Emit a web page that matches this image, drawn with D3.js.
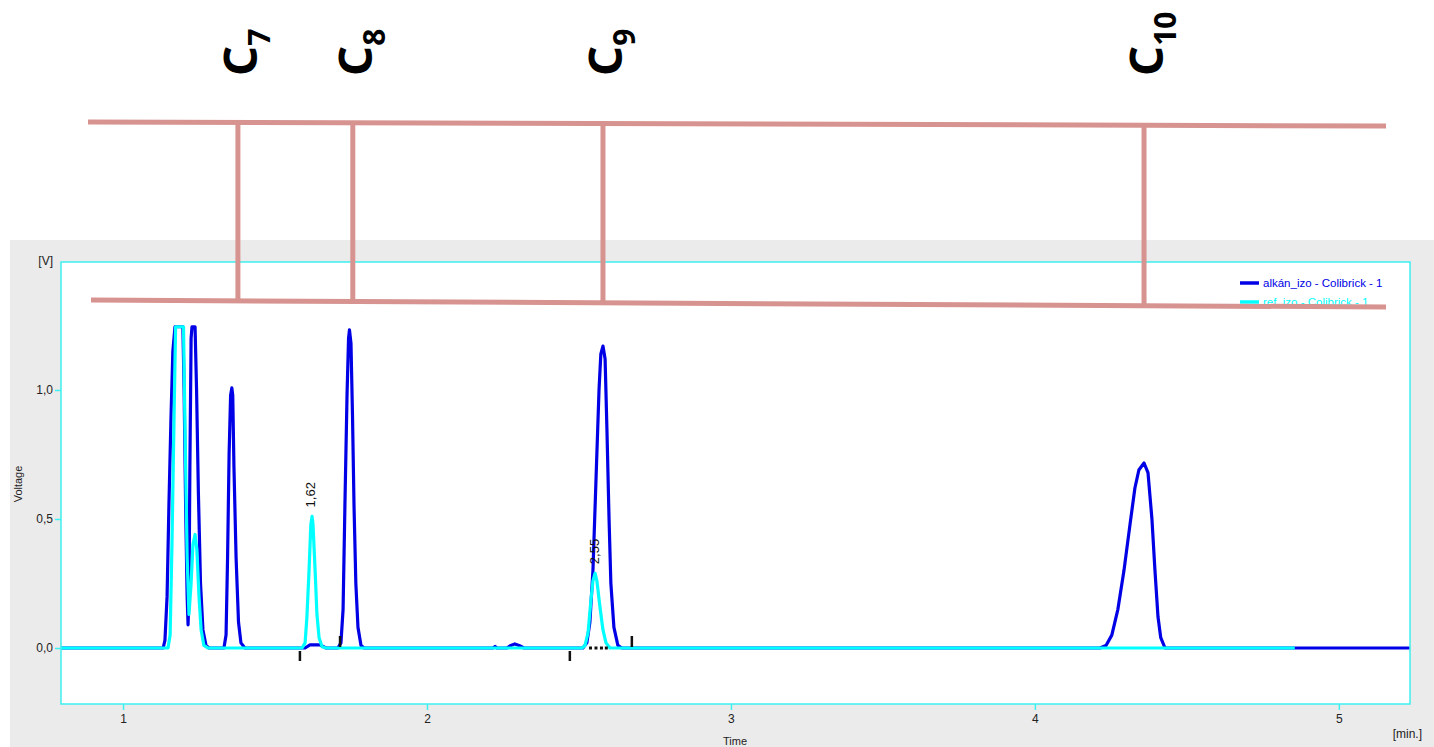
<!DOCTYPE html>
<html>
<head>
<meta charset="utf-8">
<script src="https://cdn.jsdelivr.net/npm/d3@7/dist/d3.min.js"></script>
<style>
  html, body { margin: 0; padding: 0; background: #ffffff; }
  svg { display: block; }
</style>
</head>
<body>
<script>
// ---------------- DATA ----------------
// Series 1: alkán_izo - Colibrick - 1 (blue)
const alkanTimes = [0.796, 1.132, 1.138, 1.145, 1.151, 1.158, 1.164, 1.171, 1.197, 1.201, 1.206, 1.211, 1.214, 1.217, 1.220, 1.224, 1.227, 1.237, 1.242, 1.248, 1.255, 1.263, 1.273, 1.283,
  1.332, 1.339, 1.344, 1.349, 1.354, 1.358, 1.361, 1.365, 1.372, 1.380, 1.388, 1.401,
  1.599, 1.615, 1.648, 1.668,
  1.707, 1.717, 1.724, 1.730, 1.737, 1.742, 1.745, 1.750, 1.755, 1.760, 1.766, 1.773, 1.783, 1.793,
  2.217, 2.224, 2.230, 2.263, 2.276, 2.289, 2.303, 2.319,
  2.513, 2.526, 2.536, 2.546, 2.556, 2.566, 2.572, 2.579, 2.586, 2.592, 2.599, 2.605, 2.615, 2.628, 2.641,
  4.214, 4.234, 4.253, 4.273, 4.293, 4.313, 4.329, 4.342, 4.359, 4.372, 4.385, 4.395, 4.405, 4.414, 4.428, 5.234];
const alkanVolts = [0, 0, 0.03, 0.2, 0.55, 0.9, 1.15, 1.245, 1.245, 1.0, 0.55, 0.2, 0.09, 0.2, 0.7, 1.2, 1.245, 1.245, 1.0, 0.6, 0.25, 0.07, 0.01, 0,
  0, 0.05, 0.35, 0.75, 0.98, 1.008, 0.98, 0.7, 0.35, 0.1, 0.02, 0,
  0, 0.012, 0.012, 0,
  0, 0.02, 0.15, 0.55, 0.98, 1.2, 1.233, 1.18, 0.9, 0.55, 0.25, 0.08, 0.01, 0,
  0, 0.006, 0, 0, 0.01, 0.016, 0.01, 0,
  0, 0.02, 0.1, 0.3, 0.65, 1.0, 1.14, 1.17, 1.12, 0.85, 0.5, 0.25, 0.08, 0.01, 0,
  0, 0.01, 0.05, 0.15, 0.3, 0.48, 0.62, 0.69, 0.717, 0.68, 0.5, 0.3, 0.12, 0.04, 0, 0];

// Series 2: ref_izo - Colibrick - 1 (cyan)
const refTimes = [0.796, 1.148, 1.155, 1.161, 1.168, 1.173, 1.199, 1.204, 1.211, 1.217, 1.224, 1.230, 1.237, 1.243, 1.250, 1.257, 1.266, 1.280,
  1.589, 1.599, 1.605, 1.612, 1.618, 1.622, 1.625, 1.632, 1.638, 1.645, 1.655, 1.668,
  2.510, 2.520, 2.530, 2.539, 2.546, 2.553, 2.559, 2.569, 2.579, 2.589, 2.602, 4.855];
const refVolts = [0, 0, 0.05, 0.4, 0.9, 1.245, 1.245, 0.85, 0.35, 0.13, 0.25, 0.4, 0.44, 0.38, 0.2, 0.07, 0.01, 0,
  0, 0.02, 0.12, 0.3, 0.48, 0.51, 0.48, 0.3, 0.13, 0.04, 0.005, 0,
  0, 0.01, 0.06, 0.18, 0.26, 0.29, 0.26, 0.16, 0.07, 0.02, 0, 0];

const seriesNames = ["alkán_izo - Colibrick - 1", "ref_izo - Colibrick - 1"];

// Peak labels (reference series)
const peakLabels = ["1,62", "2,55"];
const peakTimes = [1.62, 2.553];
const peakVolts = [0.51, 0.29];

// Integration markers
const markerTimes = [1.582, 1.714, 2.470, 2.674];
const markerSide = [-1, 1, -1, 1];   // -1 below baseline, 1 above
const dotTimes = [2.538, 2.556, 2.574, 2.590];

// Axis ticks
const xTicks = [1, 2, 3, 4, 5];
const yTicks = [0, 0.5, 1.0];
const yTickLabels = ["0,0", "0,5", "1,0"];

// Annotation (carbon numbers)
const carbonNums = ["7", "8", "9", "10"];
const carbonTimes = [1.378, 1.756, 2.579, 4.359];

// ---------------- LAYOUT ----------------
const W = 1434, H = 747;
const plot = { left: 61, top: 262, right: 1410, bottom: 704 };
const BLUE = "#0000e6", CYAN = "#00ffff", PINK = "#d6938f", AXIS = "#3ff0f0";

const svg = d3.select("body").append("svg").attr("width", W).attr("height", H);

// gray panel
svg.append("rect").attr("x", 10).attr("y", 240).attr("width", W - 10).attr("height", H - 240).attr("fill", "#ebebeb");
svg.append("rect").attr("x", plot.left).attr("y", plot.top)
  .attr("width", plot.right - plot.left).attr("height", plot.bottom - plot.top).attr("fill", "#ffffff");

const x = d3.scaleLinear().domain([0.796, 5.234]).range([plot.left, plot.right]);
const y = d3.scaleLinear().domain([-0.217, 1.496]).range([plot.bottom, plot.top]);

const font = "'Liberation Sans', Arial, sans-serif";

// axes
const xAxis = svg.append("g").attr("transform", `translate(0,${plot.bottom})`)
  .call(d3.axisBottom(x).tickValues(xTicks).tickFormat(d3.format("d")).tickSize(6).tickPadding(4));
const yAxis = svg.append("g").attr("transform", `translate(${plot.left},0)`)
  .call(d3.axisLeft(y).tickValues(yTicks).tickFormat((d, i) => yTickLabels[i]).tickSize(6).tickPadding(2));
[xAxis, yAxis].forEach(g => {
  g.select(".domain").remove();
  g.selectAll(".tick line").attr("stroke", AXIS).attr("stroke-width", 1.5);
  g.selectAll(".tick text").attr("fill", "#222").style("font-family", font).style("font-size", "12px");
});

// series lines
const line = d3.line().x(d => x(d[0])).y(d => y(d[1]));
const alkan = alkanTimes.map((t, i) => [t, alkanVolts[i]]);
const ref = refTimes.map((t, i) => [t, refVolts[i]]);

svg.append("clipPath").attr("id", "clip").append("rect")
  .attr("x", plot.left).attr("y", plot.top).attr("width", plot.right - plot.left).attr("height", plot.bottom - plot.top);

const gPlot = svg.append("g").attr("clip-path", "url(#clip)");

gPlot.append("path").datum(alkan).attr("d", line).attr("fill", "none")
  .attr("stroke", BLUE).attr("stroke-width", 3.2).attr("stroke-linejoin", "round");
gPlot.append("path").datum(ref).attr("d", line).attr("fill", "none")
  .attr("stroke", CYAN).attr("stroke-width", 3.2).attr("stroke-linejoin", "round");

// markers (on top)
gPlot.selectAll(".mk").data(markerTimes).enter().append("line")
  .attr("x1", d => x(d)).attr("x2", d => x(d))
  .attr("y1", (d, i) => y(0) + (markerSide[i] < 0 ? 3 : -1))
  .attr("y2", (d, i) => y(0) + (markerSide[i] < 0 ? 13 : -12))
  .attr("stroke", "#111").attr("stroke-width", 2.5);
gPlot.selectAll(".dt").data(dotTimes).enter().append("rect")
  .attr("x", d => x(d) - 1.5).attr("y", y(0) - 1.5).attr("width", 3).attr("height", 3).attr("fill", "#111");

// peak labels
svg.selectAll(".pl").data(peakLabels).enter().append("text")
  .attr("transform", (d, i) => `translate(${x(peakTimes[i]) + 4},${y(peakVolts[i]) - 9}) rotate(-90)`)
  .attr("text-anchor", "start")
  .style("font-family", font).style("font-size", "13px").attr("fill", "#111")
  .text(d => d);

// border
svg.append("rect").attr("x", plot.left).attr("y", plot.top)
  .attr("width", plot.right - plot.left).attr("height", plot.bottom - plot.top)
  .attr("fill", "none").attr("stroke", AXIS).attr("stroke-width", 1.5);

// axis titles
svg.append("text").attr("x", 53).attr("y", 265).attr("text-anchor", "end")
  .style("font-family", font).style("font-size", "12px").attr("fill", "#222").text("[V]");
svg.append("text").attr("transform", "translate(22,484) rotate(-90)").attr("text-anchor", "middle")
  .style("font-family", font).style("font-size", "11px").attr("fill", "#222").text("Voltage");
svg.append("text").attr("x", 735).attr("y", 745).attr("text-anchor", "middle")
  .style("font-family", font).style("font-size", "11px").attr("fill", "#222").text("Time");
svg.append("text").attr("x", 1422).attr("y", 738).attr("text-anchor", "end")
  .style("font-family", font).style("font-size", "12px").attr("fill", "#222").text("[min.]");

// legend
const legColors = [BLUE, CYAN];
const leg = svg.append("g");
seriesNames.forEach((n, i) => {
  const ly = 283 + i * 19;
  leg.append("line").attr("x1", 1240).attr("x2", 1259).attr("y1", ly).attr("y2", ly)
    .attr("stroke", legColors[i]).attr("stroke-width", 3.5);
  leg.append("text").attr("x", 1263).attr("y", ly + 4)
    .style("font-family", font).style("font-size", "11.5px").attr("fill", legColors[i]).text(n);
});

// pink annotation overlay
const ov = svg.append("g").attr("stroke", PINK).attr("stroke-width", 5).attr("fill", "none");
ov.append("line").attr("x1", 88).attr("y1", 122).attr("x2", 1386).attr("y2", 126);
ov.append("line").attr("x1", 91).attr("y1", 300).attr("x2", 1386).attr("y2", 307);
const topY = t => 122 + (x(t) - 88) * 4 / 1298;
const botY = t => 300 + (x(t) - 91) * 7 / 1295;
carbonTimes.forEach(t => {
  ov.append("line").attr("x1", x(t)).attr("x2", x(t)).attr("y1", topY(t)).attr("y2", botY(t));
});

// carbon labels
carbonNums.forEach((n, i) => {
  const tx = svg.append("text")
    .attr("transform", `translate(${x(carbonTimes[i]) + 19},76) rotate(-90)`)
    .style("font-family", "'Noto Sans', 'DejaVu Sans', sans-serif").style("font-weight", "700")
    .attr("fill", "#000");
  tx.append("tspan").style("font-size", "47px").text("C");
  tx.append("tspan").style("font-size", "30px").attr("dy", 13).text(n);
});
</script>
</body>
</html>
